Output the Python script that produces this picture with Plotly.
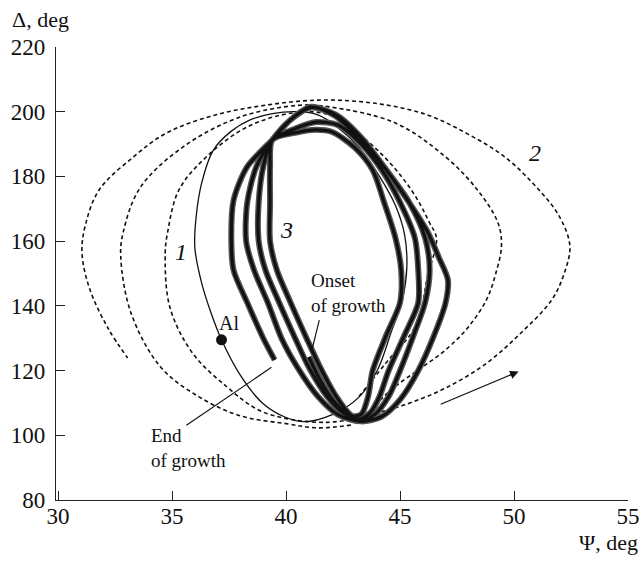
import plotly.graph_objects as go

# ---- Data (Psi, Delta in degrees) ----
# Curve 2: calculated trajectories (dashed), three of them
psi_2a = [43.0, 44.0, 45.2, 47.0, 48.8, 50.3, 51.65, 52.2, 52.45, 52.0, 51.1, 49.6, 48.0, 46.2, 44.0,
          41.5, 39.1, 36.9, 34.75, 33.3, 31.8, 31.2, 31.05, 31.4, 32.2, 33.05]
dlt_2a = [104.8, 106.9, 109.4, 114.6, 122.3, 131.6, 141.8, 150, 158.5, 167.5, 175.8, 186, 193, 199, 202.5,
          203.6, 202, 199, 193.4, 186, 175.8, 165, 156.3, 145, 133, 123.9]

psi_2b = [43.5, 44.6, 45.8, 47.0, 48.0, 48.8, 49.2, 49.45, 49.3, 48.4, 47.0, 44.8, 41.9, 40.6, 38.0,
          35.5, 33.6, 32.85, 32.75, 33.2, 34.5, 36.2, 38.0, 40.0, 41.4, 42.9]
dlt_2b = [106, 114, 120.2, 126.4, 133.5, 142, 150, 158.5, 165.6, 175.8, 186, 196.5, 201.5, 202, 198.4,
          189.2, 176.5, 162.5, 155.2, 137.8, 121.1, 111.8, 106, 103.6, 102.3, 103.2]

psi_2c = [43.2, 44.6, 45.5, 45.9, 46.2, 46.6, 46.3, 45.5, 44.0, 41.9, 40.3, 38.3, 36.5, 35.3, 34.8,
          34.7, 34.9, 35.9, 37.4, 38.8, 40.3, 41.8, 43.0]
dlt_2c = [112, 124.2, 131.6, 138, 149, 160.8, 165.6, 175.8, 188.2, 199, 199.6, 195.3, 186, 175.8, 162.5,
          156.3, 139.7, 125.4, 115, 107.8, 104.8, 104, 105]

# Curve 1: solid trajectory
psi_1 = [40.5, 39.4, 38.4, 37.6, 36.8, 36.3, 36.05, 36.0, 36.3, 36.7, 37.17, 38.0, 38.96, 40.0, 40.8,
         42.0, 43.2, 44.0, 44.6, 45.1, 45.3, 45.2, 44.8, 44.1, 43.2, 42.3, 41.4, 40.5]
dlt_1 = [200, 199.4, 197.4, 194, 188, 178, 167, 158, 147, 138, 129.5, 118.5, 110, 105.5, 104.2,
         106.3, 111.8, 120, 131.6, 141.8, 152, 162, 171, 180, 189, 195, 199, 200]

# Curve 3: measured trajectory during growth (onset -> end)
psi_3 = [41.0, 41.5, 42.1, 42.8,
         43.3, 43.6, 43.8, 44.4, 45.0, 45.05, 44.8, 44.3, 43.8, 43.0, 42.0, 41.3, 40.4, 39.4,
         39.3, 39.3, 39.3, 39.6, 40.2, 40.9, 41.5, 42.2, 42.8, 43.2,
         43.7, 44.1, 44.5, 45.2, 45.8, 45.8, 45.65, 45.0, 44.2, 43.3, 42.3, 41.3, 40.3, 39.4,
         39.0, 38.8, 38.8, 39.1, 39.7, 40.4, 41.0, 41.8, 42.6, 43.3,
         43.9, 44.5, 45.0, 45.6, 46.1, 46.3, 46.1, 45.4, 44.4, 43.3, 42.2, 41.1, 40.2, 39.4,
         38.7, 38.3, 38.25, 38.6, 39.2, 39.8, 40.5, 41.4, 42.3, 43.3,
         44.2, 45.0, 45.8, 46.5, 47.0, 47.1, 46.7, 46.2, 45.3, 44.4, 43.3, 42.2, 41.1, 40.2, 39.4,
         38.3, 37.7, 37.6, 37.7, 38.3, 39.0, 39.5]
dlt_3 = [124.2, 117, 110.5, 106,
         106.5, 112, 120, 131, 141, 151, 161, 172, 182, 189, 193.8, 194.4, 193.5, 191.3,
         183, 172, 160, 151, 141, 130, 121, 112, 106.5, 105,
         107, 112, 120, 131, 141, 151, 161, 172, 182, 190, 195.8, 196.8, 194.5, 191.3,
         183, 172, 160, 151, 141, 130, 121, 112, 106.5, 104.6,
         106.5, 112, 120, 131, 141, 151, 161, 172, 182, 192, 199, 201.3, 197.5, 191.3,
         183, 172, 160, 151, 141, 130, 121, 112, 106.3, 104.3,
         105.8, 111, 120, 131, 141, 148, 155, 163, 173, 182, 191, 198.5, 201.5, 197.5, 191.3,
         183, 172.7, 160, 151, 141, 130, 123.3]

al_point = [37.17, 129.5]

onset_pointer_psi = [41.46, 41.11]
onset_pointer_dlt = [135.6, 125.7]
end_pointer_psi = [35.63, 39.36]
end_pointer_dlt = [103.1, 121.0]
arrow_psi = [46.72, 50.2]
arrow_dlt = [109.4, 119.7]

x_ticks = [30, 35, 40, 45, 50, 55]
y_ticks = [80, 100, 120, 140, 160, 180, 200, 220]

FONT = "Liberation Serif, Times New Roman, serif"
BLACK = "#111111"

fig = go.Figure()

for px_, py_ in [(psi_2a, dlt_2a), (psi_2b, dlt_2b), (psi_2c, dlt_2c)]:
    fig.add_trace(go.Scatter(x=px_, y=py_, mode="lines",
                             line=dict(color=BLACK, width=1.6, dash="4px,3px", shape="spline", smoothing=1.0),
                             hoverinfo="skip", showlegend=False))

fig.add_trace(go.Scatter(x=psi_1, y=dlt_1, mode="lines",
                         line=dict(color=BLACK, width=1.3, shape="spline", smoothing=1.0),
                         hoverinfo="skip", showlegend=False))

# measured trajectory: dark hatched fringe + black core
fig.add_trace(go.Scatter(x=psi_3, y=dlt_3, mode="lines",
                         line=dict(color="#555555", width=6, shape="spline", smoothing=0.8),
                         hoverinfo="skip", showlegend=False))
fig.add_trace(go.Scatter(x=psi_3, y=dlt_3, mode="lines",
                         line=dict(color=BLACK, width=3.2, shape="spline", smoothing=0.8),
                         hoverinfo="skip", showlegend=False))

fig.add_trace(go.Scatter(x=[al_point[0]], y=[al_point[1]], mode="markers",
                         marker=dict(color=BLACK, size=11, symbol="circle"),
                         hoverinfo="skip", showlegend=False))

# pointer lines
fig.add_trace(go.Scatter(x=onset_pointer_psi, y=onset_pointer_dlt, mode="lines",
                         line=dict(color=BLACK, width=1.2), hoverinfo="skip", showlegend=False))
fig.add_trace(go.Scatter(x=end_pointer_psi, y=end_pointer_dlt, mode="lines",
                         line=dict(color=BLACK, width=1.2), hoverinfo="skip", showlegend=False))

def txt(x, y, s, size=20, xanchor="center"):
    return dict(x=x, y=y, xref="x", yref="y", text=s, showarrow=False, xanchor=xanchor,
                yanchor="middle", align="left", font=dict(size=size, family=FONT, color=BLACK))

annotations = [
    dict(x=arrow_psi[1], y=arrow_dlt[1], ax=arrow_psi[0], ay=arrow_dlt[0], xref="x", yref="y",
         axref="x", ayref="y", showarrow=True, arrowhead=2, arrowsize=1.3, arrowwidth=1.3,
         arrowcolor=BLACK, text=""),
    txt(35.4, 156.6, "<i>1</i>", 24),
    txt(50.9, 187.2, "<i>2</i>", 24),
    txt(40.0, 163.4, "<i>3</i>", 24),
    txt(37.5, 134.7, "Al", 20),
    txt(41.0, 144.0, "Onset<br>of growth", 19, "left"),
    txt(34.0, 96.2, "End<br>of growth", 19, "left"),
    dict(x=-0.0804, y=1.0618, xref="paper", yref="paper", text="Δ, deg", xanchor="left",
         yanchor="middle", showarrow=False, font=dict(size=22, family=FONT, color=BLACK)),
    dict(x=1.021, y=-0.0949, xref="paper", yref="paper", text="Ψ, deg", xanchor="right",
         yanchor="middle", showarrow=False, font=dict(size=22, family=FONT, color=BLACK)),
]

fig.update_layout(
    template="none",
    width=644, height=561,
    margin=dict(l=56, r=16, t=47, b=61, pad=0),
    paper_bgcolor="white", plot_bgcolor="white",
    font=dict(family=FONT, size=23, color=BLACK),
    annotations=annotations,
    showlegend=False,
    xaxis=dict(range=[29.91, 55], tickvals=x_ticks, ticktext=[str(v) for v in x_ticks],
               showline=True, linecolor="#222", linewidth=1.4, ticks="inside", ticklen=9,
               tickwidth=1.4, tickcolor="#222", showgrid=False, zeroline=False, automargin=False,
               ticklabelstandoff=-5,
               tickfont=dict(size=23, family=FONT, color=BLACK)),
    yaxis=dict(range=[80, 220], tickvals=y_ticks, ticktext=[str(v) for v in y_ticks],
               showline=True, linecolor="#222", linewidth=1.4, ticks="inside", ticklen=9,
               tickwidth=1.4, tickcolor="#222", showgrid=False, zeroline=False, automargin=False,
               ticklabelstandoff=5,
               tickfont=dict(size=23, family=FONT, color=BLACK)),
)

fig.write_html("out.html")
